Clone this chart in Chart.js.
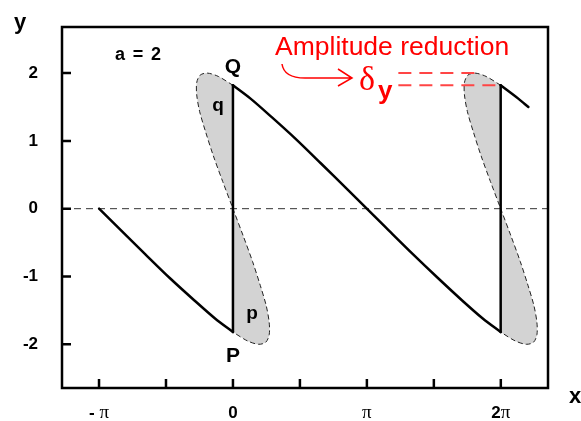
<!DOCTYPE html>
<html>
<head>
<meta charset="utf-8">
<script src="https://cdn.jsdelivr.net/npm/chart.js@4"></script>
<style>
  html, body { margin: 0; padding: 0; background: #fff; }
  #wrap { width: 581px; height: 421px; }
</style>
</head>
<body>
<div id="wrap"><canvas id="shockChart" width="581" height="421"></canvas></div>
<script>
// Breaking sine wave, a = 2: single-valued solution with shocks at 0 and 2π,
// and the multivalued S-shaped parts that the shocks cut off (shaded).

// lower branch from -π down to P
const leftX = [-3.14, -2.69, -2.06, -1.47, -0.91, -0.42, 0];
const leftY = [0, -0.28, -0.67, -1.03, -1.35, -1.62, -1.82];

// main branch from Q through π down to 2π
const mainX = [0, 0.42, 0.91, 1.47, 2.06, 2.69, 3.14, 3.59, 4.22, 4.82, 5.37, 5.86, 6.28];
const mainY = [1.82, 1.62, 1.35, 1.03, 0.67, 0.28, 0, -0.28, -0.67, -1.03, -1.35, -1.62, -1.82];

// piece after the second shock
const tailX = [6.28, 6.70, 6.93];
const tailY = [1.82, 1.62, 1.50];

// shock positions and jump limits (P and Q)
const shockX = [0, 6.28];
const shockY = [-1.82, 1.82];

// multivalued fold around each shock
const foldY = [1.82, 1.95, 2.0, 1.97, 1.86, 1.68, 1.43, 1.13, 0.78, 0.40, 0, -0.40, -0.78, -1.13, -1.43, -1.68, -1.86, -1.97, -2.0, -1.95, -1.82];
const fold1X = [0, -0.34, -0.60, -0.77, -0.85, -0.85, -0.78, -0.64, -0.46, -0.24, 0, 0.24, 0.46, 0.64, 0.78, 0.85, 0.85, 0.77, 0.60, 0.34, 0];
const fold2X = [6.28, 5.94, 5.68, 5.51, 5.43, 5.43, 5.50, 5.64, 5.82, 6.04, 6.28, 6.52, 6.74, 6.92, 7.06, 7.13, 7.13, 7.05, 6.88, 6.62, 6.28];

// amplitude reduction markers: peak of the fold vs. top of the shock
const deltaTopX = [3.88, 5.72];
const deltaTopY = [2.0, 2.0];
const deltaLowX = [3.88, 6.28];
const deltaLowY = [1.82, 1.82];

// axes
const xRange = [-4.01, 7.39];
const yRange = [-2.645, 2.68];
const xTickValues = [-Math.PI, -Math.PI / 2, 0, Math.PI / 2, Math.PI, 1.5 * Math.PI, 2 * Math.PI];
const xTickLabels = ['- π', '', '0', '', 'π', '', '2π'];
const yTickValues = [-2, -1, 0, 1, 2];

const SANS = 'Arial, "Liberation Sans", Helvetica, sans-serif';
const SERIF = '"Times New Roman", "Liberation Serif", serif';

const pts = (xs, ys) => xs.map((x, i) => ({ x, y: ys[i] }));

const solid = (data, tension) => ({
  data, showLine: true, tension, borderColor: '#000', borderWidth: 2.5,
  pointRadius: 0, fill: false, order: 0, borderCapStyle: 'round'
});

const fold = (xs) => ({
  data: pts(xs, foldY), showLine: true, tension: 0.3,
  borderColor: '#222', borderWidth: 1, borderDash: [5, 3],
  backgroundColor: '#d3d3d3', fill: 'shape', pointRadius: 0, order: 2
});

const redDash = (xs, ys) => ({
  data: pts(xs, ys), showLine: true, borderColor: '#ff4545', borderWidth: 2,
  borderDash: [13, 8], pointRadius: 0, fill: false, order: 1
});

const datasets = [
  solid(pts(leftX, leftY), 0.3),
  solid(pts([shockX[0], shockX[0]], shockY), 0),
  solid(pts(mainX, mainY), 0.3),
  solid(pts([shockX[1], shockX[1]], shockY), 0),
  solid(pts(tailX, tailY), 0.3),
  fold(fold1X),
  fold(fold2X),
  redDash(deltaTopX, deltaTopY),
  redDash(deltaLowX, deltaLowY),
  {
    data: pts(xRange, [0, 0]), showLine: true, borderColor: '#333', borderWidth: 1,
    borderDash: [7, 5], pointRadius: 0, fill: false, order: 3
  }
];

// mixed-font label: π in serif, everything else bold sans
function drawMixed(ctx, text, cx, cy, size) {
  const parts = [...text].map(ch => ({
    ch, font: ch === 'π' ? `${size + 2}px ${SERIF}` : `bold ${size}px ${SANS}`
  }));
  let w = 0;
  parts.forEach(p => { ctx.font = p.font; p.w = ctx.measureText(p.ch).width; w += p.w; });
  let px = cx - w / 2;
  ctx.textAlign = 'left';
  ctx.textBaseline = 'middle';
  parts.forEach(p => { ctx.font = p.font; ctx.fillText(p.ch, px, cy); px += p.w; });
}

const overlay = {
  id: 'overlay',
  afterDraw(chart) {
    const { ctx, chartArea: a, scales: { x, y } } = chart;
    ctx.save();

    // frame and inward ticks
    ctx.strokeStyle = '#000';
    ctx.lineWidth = 2.5;
    ctx.strokeRect(a.left, a.top, a.right - a.left, a.bottom - a.top);
    ctx.beginPath();
    x.ticks.forEach(t => {
      const px = x.getPixelForValue(t.value);
      ctx.moveTo(px, a.bottom); ctx.lineTo(px, a.bottom - 9);
    });
    y.ticks.forEach(t => {
      const py = y.getPixelForValue(t.value);
      ctx.moveTo(a.left, py); ctx.lineTo(a.left + 9, py);
    });
    ctx.stroke();

    // x tick labels
    ctx.fillStyle = '#000';
    x.ticks.forEach((t, i) => {
      if (xTickLabels[i]) drawMixed(ctx, xTickLabels[i], x.getPixelForValue(t.value), a.bottom + 25, 17);
    });

    // axis titles
    ctx.font = `bold 22px ${SANS}`;
    ctx.textAlign = 'center';
    ctx.textBaseline = 'middle';
    ctx.fillText('y', 20, 23);
    ctx.fillText('x', 575, 397);

    // point labels
    const at = (vx, vy) => [x.getPixelForValue(vx), y.getPixelForValue(vy)];
    ctx.font = `bold 18px ${SANS}`;
    const [ax, ay] = at(-2.23, 2.27);
    ctx.fillText('a', ax - 18, ay);
    ctx.fillText('=', ax, ay);
    ctx.fillText('2', ax + 18, ay);
    ctx.font = `bold 21px ${SANS}`;
    ctx.fillText('Q', ...at(0, 2.09));
    ctx.fillText('P', ...at(0, -2.17));
    ctx.font = `bold 19px ${SANS}`;
    ctx.fillText('q', ...at(-0.35, 1.52));
    ctx.fillText('p', ...at(0.45, -1.55));

    // amplitude reduction note
    ctx.fillStyle = '#ff0000';
    ctx.strokeStyle = '#ff0000';
    ctx.textAlign = 'left';
    ctx.textBaseline = 'alphabetic';
    ctx.font = `26.5px ${SANS}`;
    ctx.fillText('Amplitude reduction', 275, 55);
    ctx.font = `34px ${SERIF}`;
    ctx.fillText('δ', 359, 90);
    ctx.font = `bold 26px ${SANS}`;
    ctx.fillText('y', 378, 99);

    ctx.lineWidth = 1.5;
    ctx.beginPath();
    ctx.moveTo(282, 64);
    ctx.quadraticCurveTo(284, 78, 305, 78);
    ctx.lineTo(352, 78);
    ctx.moveTo(338, 69);
    ctx.lineTo(352, 78);
    ctx.lineTo(338, 86);
    ctx.stroke();

    ctx.restore();
  }
};

new Chart(document.getElementById('shockChart').getContext('2d'), {
  type: 'scatter',
  data: { datasets },
  options: {
    responsive: false,
    animation: false,
    devicePixelRatio: 1,
    layout: { padding: { top: 27, right: 33, left: 0, bottom: 0 } },
    plugins: { legend: { display: false }, tooltip: { enabled: false } },
    scales: {
      x: {
        type: 'linear', min: xRange[0], max: xRange[1],
        grid: { display: false }, border: { display: false },
        ticks: { display: false },
        afterBuildTicks: s => { s.ticks = xTickValues.map(v => ({ value: v })); },
        afterFit: s => { s.height = 33; }
      },
      y: {
        type: 'linear', min: yRange[0], max: yRange[1],
        grid: { display: false }, border: { display: false },
        ticks: {
          color: '#000', padding: 16,
          font: { family: SANS, size: 17, weight: 'bold' }
        },
        afterBuildTicks: s => { s.ticks = yTickValues.map(v => ({ value: v })); },
        afterFit: s => { s.width = 62; }
      }
    }
  },
  plugins: [overlay]
});
</script>
</body>
</html>
